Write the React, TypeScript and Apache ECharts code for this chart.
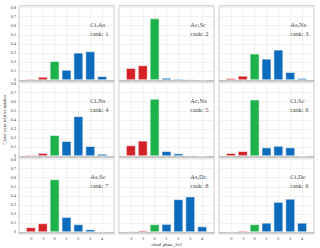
import React, { useEffect, useRef } from 'react';
import * as echarts from 'echarts';

const categories = [-2, -1, 0, 1, 2, 3, 4];
const panelNames = ['Ci,As', 'Ac,Sc', 'As,Ns', 'Ci,Ns', 'Ac,Ns', 'Ci,Sc', 'As,Sc', 'As,Dc', 'Ci,Dc'];
const panelRanks = [1, 2, 3, 4, 5, 6, 7, 8, 9];

const ciAs = [0.01, 0.033, 0.207, 0.11, 0.3, 0.315, 0.04];
const acSc = [0.13, 0.16, 0.68, 0.022, 0.012, 0.008, 0.003];
const asNs = [0.018, 0.045, 0.29, 0.233, 0.333, 0.085, 0.018];
const ciNs = [0.011, 0.03, 0.23, 0.163, 0.437, 0.107, 0.022];
const acNs = [0.115, 0.167, 0.63, 0.052, 0.026, 0.007, 0.002];
const ciSc = [0.03, 0.052, 0.622, 0.093, 0.11, 0.093, 0.002];
const asSc = [0.05, 0.094, 0.58, 0.162, 0.083, 0.027, 0.007];
const asDc = [0.007, 0.015, 0.083, 0.087, 0.36, 0.39, 0.06];
const ciDc = [0.006, 0.013, 0.083, 0.1, 0.33, 0.365, 0.1];
const panelValues = [ciAs, acSc, asNs, ciNs, acNs, ciSc, asSc, asDc, ciDc];

const xLabelName = 'cloud_phase_3x3';
const yLabelName = 'Cloud scene relative number';

const RED = '#d42127';
const GREEN = '#1db24b';
const BLUE = '#0d6bbd';
const FONT = '"Liberation Serif", "DejaVu Serif", serif';

export default function App() {
  const ref = useRef<HTMLDivElement>(null);
  useEffect(() => {
    const chart = echarts.init(ref.current!, null, { renderer: 'svg' });
    const lefts = [19, 119, 219];
    const tops = [5.8, 81.8, 157.8];
    const grids: any[] = [];
    const xAxes: any[] = [];
    const yAxes: any[] = [];
    const series: any[] = [];
    const split = { show: true, lineStyle: { color: '#e9e9e9', width: 0.6 } };
    for (let i = 0; i < 9; i++) {
      const r = Math.floor(i / 3);
      const c = i % 3;
      grids.push({
        left: lefts[c], top: tops[r], width: 95, height: 76,
        show: true, borderColor: '#b8b8b8', borderWidth: 0.8, backgroundColor: '#fff',
      });
      xAxes.push({
        type: 'value', gridIndex: i, min: -3, max: 5, interval: 1,
        axisLine: { show: true, onZero: true, lineStyle: { color: '#c2c2c2', width: 1.2 } },
        axisTick: { show: false },
        splitLine: split,
        axisLabel: {
          show: r === 2, fontSize: 4.2, fontFamily: FONT, color: '#333', margin: 3,
          formatter: (v: number) => (v < -2 || v > 4 ? '' : String(v)),
        },
        ...(i === 7
          ? { name: xLabelName, nameLocation: 'middle', nameGap: 9,
              nameTextStyle: { fontSize: 4.3, fontFamily: FONT, color: '#222' } }
          : {}),
      });
      yAxes.push({
        type: 'value', gridIndex: i, min: -0.02, max: 0.82, splitNumber: 8,
        axisLine: { show: false }, axisTick: { show: false },
        splitLine: split,
        axisLabel: {
          show: c === 0, fontSize: 4.2, fontFamily: FONT, color: '#333', margin: 3,
          formatter: (v: number) => {
            const k = v * 10;
            if (Math.abs(k - Math.round(k)) > 1e-6 || v < -1e-6 || v > 0.8 + 1e-6) return '';
            return Math.abs(v) < 1e-9 ? '0' : v.toFixed(1);
          },
        },
        ...(i === 3
          ? { name: yLabelName, nameLocation: 'middle', nameGap: 13, nameRotate: 90,
              nameTextStyle: { fontSize: 4.3, fontFamily: FONT, color: '#222' } }
          : {}),
      });
      series.push({
        type: 'bar', xAxisIndex: i, yAxisIndex: i, barWidth: 9.4,
        data: categories.map((x, k) => ({
          value: [x, panelValues[i][k]],
          itemStyle: { color: x < 0 ? RED : x === 0 ? GREEN : BLUE },
        })),
        itemStyle: { borderColor: '#ffffff', borderWidth: 0.5 },
      });
      series.push({
        type: 'scatter', xAxisIndex: i, yAxisIndex: i, symbolSize: 0, silent: true,
        data: [[3, 0.565]],
        label: {
          show: true, position: [0, 0], align: 'left', verticalAlign: 'middle',
          fontSize: 6.5, lineHeight: 9.5, fontFamily: FONT, color: '#111',
          formatter: () => `${panelNames[i]}\nrank: ${panelRanks[i]}`,
        },
      });
    }
    chart.setOption({
      animation: false,
      backgroundColor: '#fff',
      grid: grids, xAxis: xAxes, yAxis: yAxes, series,
    });
    return () => chart.dispose();
  }, []);
  return <div ref={ref} style={{ position: 'fixed', left: 0, top: 0, width: 320, height: 248 }} />;
}
